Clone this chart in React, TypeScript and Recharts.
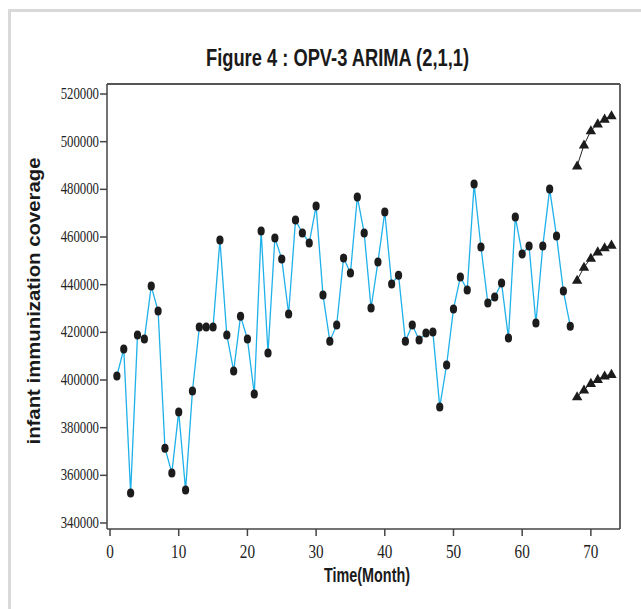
import React from "react";
import {
  LineChart,
  Line,
  XAxis,
  YAxis,
  ReferenceLine,
  Label,
} from "recharts";

// observed monthly coverage, months 1..67
const months = Array.from({ length: 67 }, (_, i) => i + 1);
const coverage = [
  401700, 413000, 352600, 418900, 417200, 439400, 428900, 371400, 361000, 386600,
  353800, 395400, 422200, 422200, 422200, 458700, 418900, 403800, 426800, 417200,
  394100, 462500, 411300, 459600, 450800, 427700, 467100, 461700, 457500, 473000,
  435700, 416300, 423100, 451200, 444900, 476800, 461700, 430200, 449500, 470500,
  440300, 444000, 416300, 423100, 416800, 419700, 420100, 388700, 406300, 429800,
  443200, 437800, 482200, 455800, 432300, 434800, 440700, 417600, 468400, 452900,
  456200, 423900, 456200, 480100, 460400, 437300, 422600,
];

// ARIMA(2,1,1) forecast, months 68..73
const forecastMonths = [68, 69, 70, 71, 72, 73];
const upperBound = [489800, 498600, 504600, 507500, 509500, 510900];
const forecast = [441900, 447300, 451100, 453800, 455500, 456600];
const lowerBound = [393000, 395800, 398600, 400300, 401700, 402400];

const xTicks = [0, 10, 20, 30, 40, 50, 60, 70];
const yTicks = [340000, 360000, 380000, 400000, 420000, 440000, 460000, 480000, 500000, 520000];

const X_MIN = -0.44;
const X_MAX = 74.24;
const Y_MIN = 337480;
const Y_MAX = 524200;

const chartData = [
  ...months.map((m, i) => ({ month: m, actual: coverage[i] })),
  ...forecastMonths.map((m, i) => ({
    month: m,
    upper: upperBound[i],
    mid: forecast[i],
    lower: lowerBound[i],
  })),
];

const CircleDot = (props: any) => {
  const { cx, cy, value, index } = props;
  if (value == null || cy == null) return <g key={`c${index}`} />;
  return <ellipse key={`c${index}`} cx={cx} cy={cy} rx={3.6} ry={4.5} fill="#1c1c1c" />;
};

const TriangleDot = (props: any) => {
  const { cx, cy, value, index } = props;
  if (value == null || cy == null) return <g key={`t${index}`} />;
  const pts = `${cx},${cy - 5.5} ${cx - 5.2},${cy + 3.6} ${cx + 5.2},${cy + 3.6}`;
  return <polygon key={`t${index}`} points={pts} fill="#1c1c1c" />;
};

const YTick = (props: any) => {
  const { x, y, payload } = props;
  return (
    <g transform={`translate(${x},${y}) scale(0.8,1)`}>
      <text x={0} y={0} dy={5} textAnchor="end" fontFamily="'Liberation Serif', serif" fontSize={16} fill="#222">
        {payload.value}
      </text>
    </g>
  );
};

const XTick = (props: any) => {
  const { x, y, payload } = props;
  return (
    <g transform={`translate(${x},${y}) scale(0.8,1)`}>
      <text x={0} y={0} dy={22} textAnchor="middle" fontFamily="'Liberation Serif', serif" fontSize={19} fill="#222">
        {payload.value}
      </text>
    </g>
  );
};

export default function App() {
  return (
    <div style={{ position: "absolute", left: 0, top: 0, width: 641, height: 609, background: "#fff" }}>
      <div
        style={{
          position: "absolute",
          left: 8,
          top: 9,
          width: 640,
          height: 600,
          borderLeft: "3px solid #d9d9d9",
          borderTop: "3px solid #d9d9d9",
          boxSizing: "border-box",
        }}
      />
      <svg width={641} height={80} style={{ position: "absolute", left: 0, top: 0 }}>
        <text
          x={206}
          y={66}
          textLength={263}
          lengthAdjust="spacingAndGlyphs"
          fontFamily="'Liberation Sans', Arial, sans-serif"
          fontWeight="bold"
          fontSize={23}
          fill="#1a1a1a"
        >
          Figure 4 :  OPV-3 ARIMA (2,1,1)
        </text>
      </svg>
      <div style={{ position: "absolute", left: 0, top: 0 }}>
        <LineChart
          width={641}
          height={609}
          data={chartData}
          margin={{ top: 84, right: 21, bottom: 20, left: 37 }}
        >
          <XAxis
            dataKey="month"
            type="number"
            domain={[X_MIN, X_MAX]}
            allowDataOverflow
            ticks={xTicks}
            height={60}
            tickSize={7}
            tickMargin={0}
            tick={<XTick />}
            stroke="#444"
            strokeWidth={1.5}
          >
            <Label
              content={() => (
                <text
                  x={324}
                  y={582}
                  textLength={86}
                  lengthAdjust="spacingAndGlyphs"
                  fontFamily="'Liberation Sans', Arial, sans-serif"
                  fontWeight="bold"
                  fontSize={20}
                  fill="#1a1a1a"
                >
                  Time(Month)
                </text>
              )}
            />
          </XAxis>
          <YAxis
            type="number"
            domain={[Y_MIN, Y_MAX]}
            allowDataOverflow
            ticks={yTicks}
            width={70}
            tickSize={7}
            tickMargin={1}
            tick={<YTick />}
            stroke="#444"
            strokeWidth={1.5}
          >
            <Label
              content={() => (
                <text
                  transform="translate(40,301) rotate(-90)"
                  x={0}
                  y={0}
                  textAnchor="middle"
                  textLength={287}
                  lengthAdjust="spacingAndGlyphs"
                  fontFamily="'Liberation Sans', Arial, sans-serif"
                  fontWeight="bold"
                  fontSize={19}
                  fill="#1a1a1a"
                >
                  infant immunization coverage
                </text>
              )}
            />
          </YAxis>
          <ReferenceLine y={Y_MAX} stroke="#555" strokeWidth={1.8} />
          <ReferenceLine x={X_MAX} stroke="#555" strokeWidth={1.8} />
          <Line
            dataKey="actual"
            stroke="#1fb1ea"
            strokeWidth={1.3}
            dot={<CircleDot />}
            activeDot={false}
            connectNulls={false}
            isAnimationActive={false}
          />
          <Line
            dataKey="upper"
            stroke="#222"
            strokeWidth={1}
            dot={<TriangleDot />}
            activeDot={false}
            isAnimationActive={false}
          />
          <Line
            dataKey="mid"
            stroke="#222"
            strokeWidth={1}
            dot={<TriangleDot />}
            activeDot={false}
            isAnimationActive={false}
          />
          <Line
            dataKey="lower"
            stroke="#222"
            strokeWidth={1}
            dot={<TriangleDot />}
            activeDot={false}
            isAnimationActive={false}
          />
        </LineChart>
      </div>
    </div>
  );
}
